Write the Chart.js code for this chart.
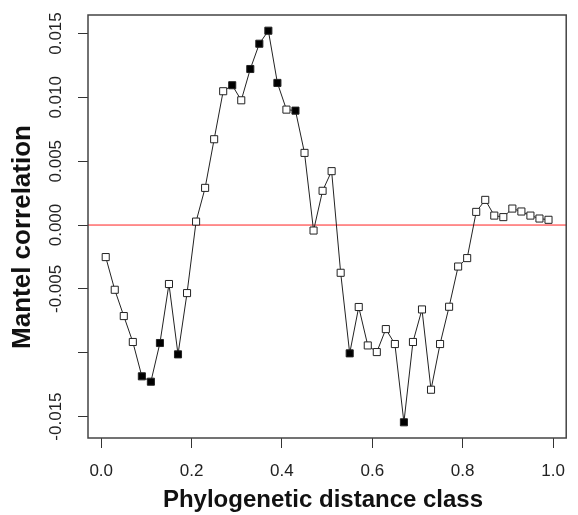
<!DOCTYPE html>
<html>
<head>
<meta charset="utf-8">
<script src="https://cdn.jsdelivr.net/npm/chart.js@4.4.0/dist/chart.umd.min.js"></script>
<style>
  body { margin: 0; background: #fff; }
</style>
</head>
<body>
<canvas id="mantel" width="578" height="515"></canvas>
<script>
// distance class centres
const distClass = [
  0.01, 0.03, 0.05, 0.07, 0.09, 0.11, 0.13, 0.15, 0.17, 0.19,
  0.21, 0.23, 0.25, 0.27, 0.29, 0.31, 0.33, 0.35, 0.37, 0.39,
  0.41, 0.43, 0.45, 0.47, 0.49, 0.51, 0.53, 0.55, 0.57, 0.59,
  0.61, 0.63, 0.65, 0.67, 0.69, 0.71, 0.73, 0.75, 0.77, 0.79,
  0.81, 0.83, 0.85, 0.87, 0.89, 0.91, 0.93, 0.95, 0.97, 0.99
];
const mantelR = [
  -0.00251, -0.00507, -0.00713, -0.00916, -0.01185, -0.01227, -0.00924, -0.00462, -0.01013, -0.00533,
  0.00027, 0.00291, 0.00672, 0.01048, 0.01095, 0.00977, 0.01222, 0.01420, 0.01522, 0.01113,
  0.00904, 0.00896, 0.00565, -0.00043, 0.00268, 0.00422, -0.00374, -0.01005, -0.00642, -0.00943,
  -0.00995, -0.00815, -0.00932, -0.01545, -0.00916, -0.00661, -0.01290, -0.00932, -0.00640, -0.00325,
  -0.00259, 0.00103, 0.00197, 0.00074, 0.00062, 0.00129, 0.00106, 0.00074, 0.00051, 0.00041
];
// 1 = significant (filled square)
const significant = [
  0, 0, 0, 0, 1, 1, 1, 0, 1, 0,
  0, 0, 0, 0, 1, 0, 1, 1, 1, 1,
  0, 1, 0, 0, 0, 0, 0, 1, 0, 0,
  0, 0, 0, 1, 0, 0, 0, 0, 0, 0,
  0, 0, 0, 0, 0, 0, 0, 0, 0, 0
];
const xTicks = [0, 0.2, 0.4, 0.6, 0.8, 1.0];
const xTickLabels = ['0.0', '0.2', '0.4', '0.6', '0.8', '1.0'];
const yTicks = [-0.015, -0.010, -0.005, 0, 0.005, 0.010, 0.015];
const yTickLabels = ['-0.015', '', '-0.005', '0.000', '0.005', '0.010', '0.015'];
const xTitle = 'Phylogenetic distance class';
const yTitle = 'Mantel correlation';

const FONT = '"Liberation Sans", Arial, sans-serif';

// red zero line, plot box, rotated y labels and axis titles (R style)
const rStyle = {
  id: 'rStyle',
  beforeDatasetsDraw(chart) {
    const { ctx, chartArea: a, scales: { y } } = chart;
    const y0 = y.getPixelForValue(0);
    ctx.save();
    ctx.strokeStyle = '#ff2020';
    ctx.lineWidth = 1;
    ctx.beginPath();
    ctx.moveTo(a.left, y0);
    ctx.lineTo(a.right, y0);
    ctx.stroke();
    ctx.restore();
  },
  afterDraw(chart) {
    const { ctx, chartArea: a, scales: { y } } = chart;
    ctx.save();
    ctx.strokeStyle = '#444';
    ctx.lineWidth = 1.5;
    ctx.strokeRect(a.left, a.top, a.right - a.left, a.bottom - a.top);

    ctx.fillStyle = '#222';
    ctx.font = '17px ' + FONT;
    ctx.textAlign = 'center';
    ctx.textBaseline = 'middle';
    yTicks.forEach((v, i) => {
      if (!yTickLabels[i]) return;
      ctx.save();
      ctx.translate(56, y.getPixelForValue(v));
      ctx.rotate(-Math.PI / 2);
      ctx.fillText(yTickLabels[i], 0, 0);
      ctx.restore();
    });

    ctx.fillStyle = '#111';
    ctx.font = 'bold 24px ' + FONT;
    ctx.fillText(xTitle, 323, 500);
    ctx.save();
    ctx.translate(23, 237);
    ctx.rotate(-Math.PI / 2);
    ctx.font = 'bold 26px ' + FONT;
    ctx.fillText(yTitle, 0, 0);
    ctx.restore();
    ctx.restore();
  }
};

new Chart(document.getElementById('mantel'), {
  type: 'scatter',
  data: {
    datasets: [{
      data: distClass.map((x, i) => ({ x: x, y: mantelR[i] })),
      showLine: true,
      borderColor: '#222',
      borderWidth: 1,
      pointStyle: 'rect',
      pointRadius: 5,
      pointBorderWidth: 1,
      pointBorderColor: '#222',
      pointBackgroundColor: significant.map(s => s ? '#000' : '#fff')
    }]
  },
  options: {
    responsive: false,
    animation: false,
    layout: { padding: { top: 15, right: 1, left: 0, bottom: 0 } },
    plugins: {
      legend: { display: false },
      tooltip: { enabled: false }
    },
    scales: {
      x: {
        type: 'linear',
        min: -0.0292,
        max: 1.0292,
        afterBuildTicks: s => { s.ticks = xTicks.map(v => ({ value: v })); },
        afterFit: s => { s.height = 77; },
        border: { display: false },
        grid: { drawOnChartArea: false, drawTicks: true, tickLength: 10, color: '#333', lineWidth: 1 },
        ticks: {
          autoSkip: false,
          maxRotation: 0,
          padding: 13,
          color: '#222',
          font: { family: FONT, size: 17 },
          callback: v => xTickLabels[xTicks.indexOf(v)]
        }
      },
      y: {
        type: 'linear',
        min: -0.01668,
        max: 0.01645,
        afterBuildTicks: s => { s.ticks = yTicks.map(v => ({ value: v })); },
        afterFit: s => { s.width = 88; },
        border: { display: false },
        grid: { drawOnChartArea: false, drawTicks: true, tickLength: 10, color: '#333', lineWidth: 1 },
        ticks: { display: false }
      }
    }
  },
  plugins: [rStyle]
});
</script>
</body>
</html>
